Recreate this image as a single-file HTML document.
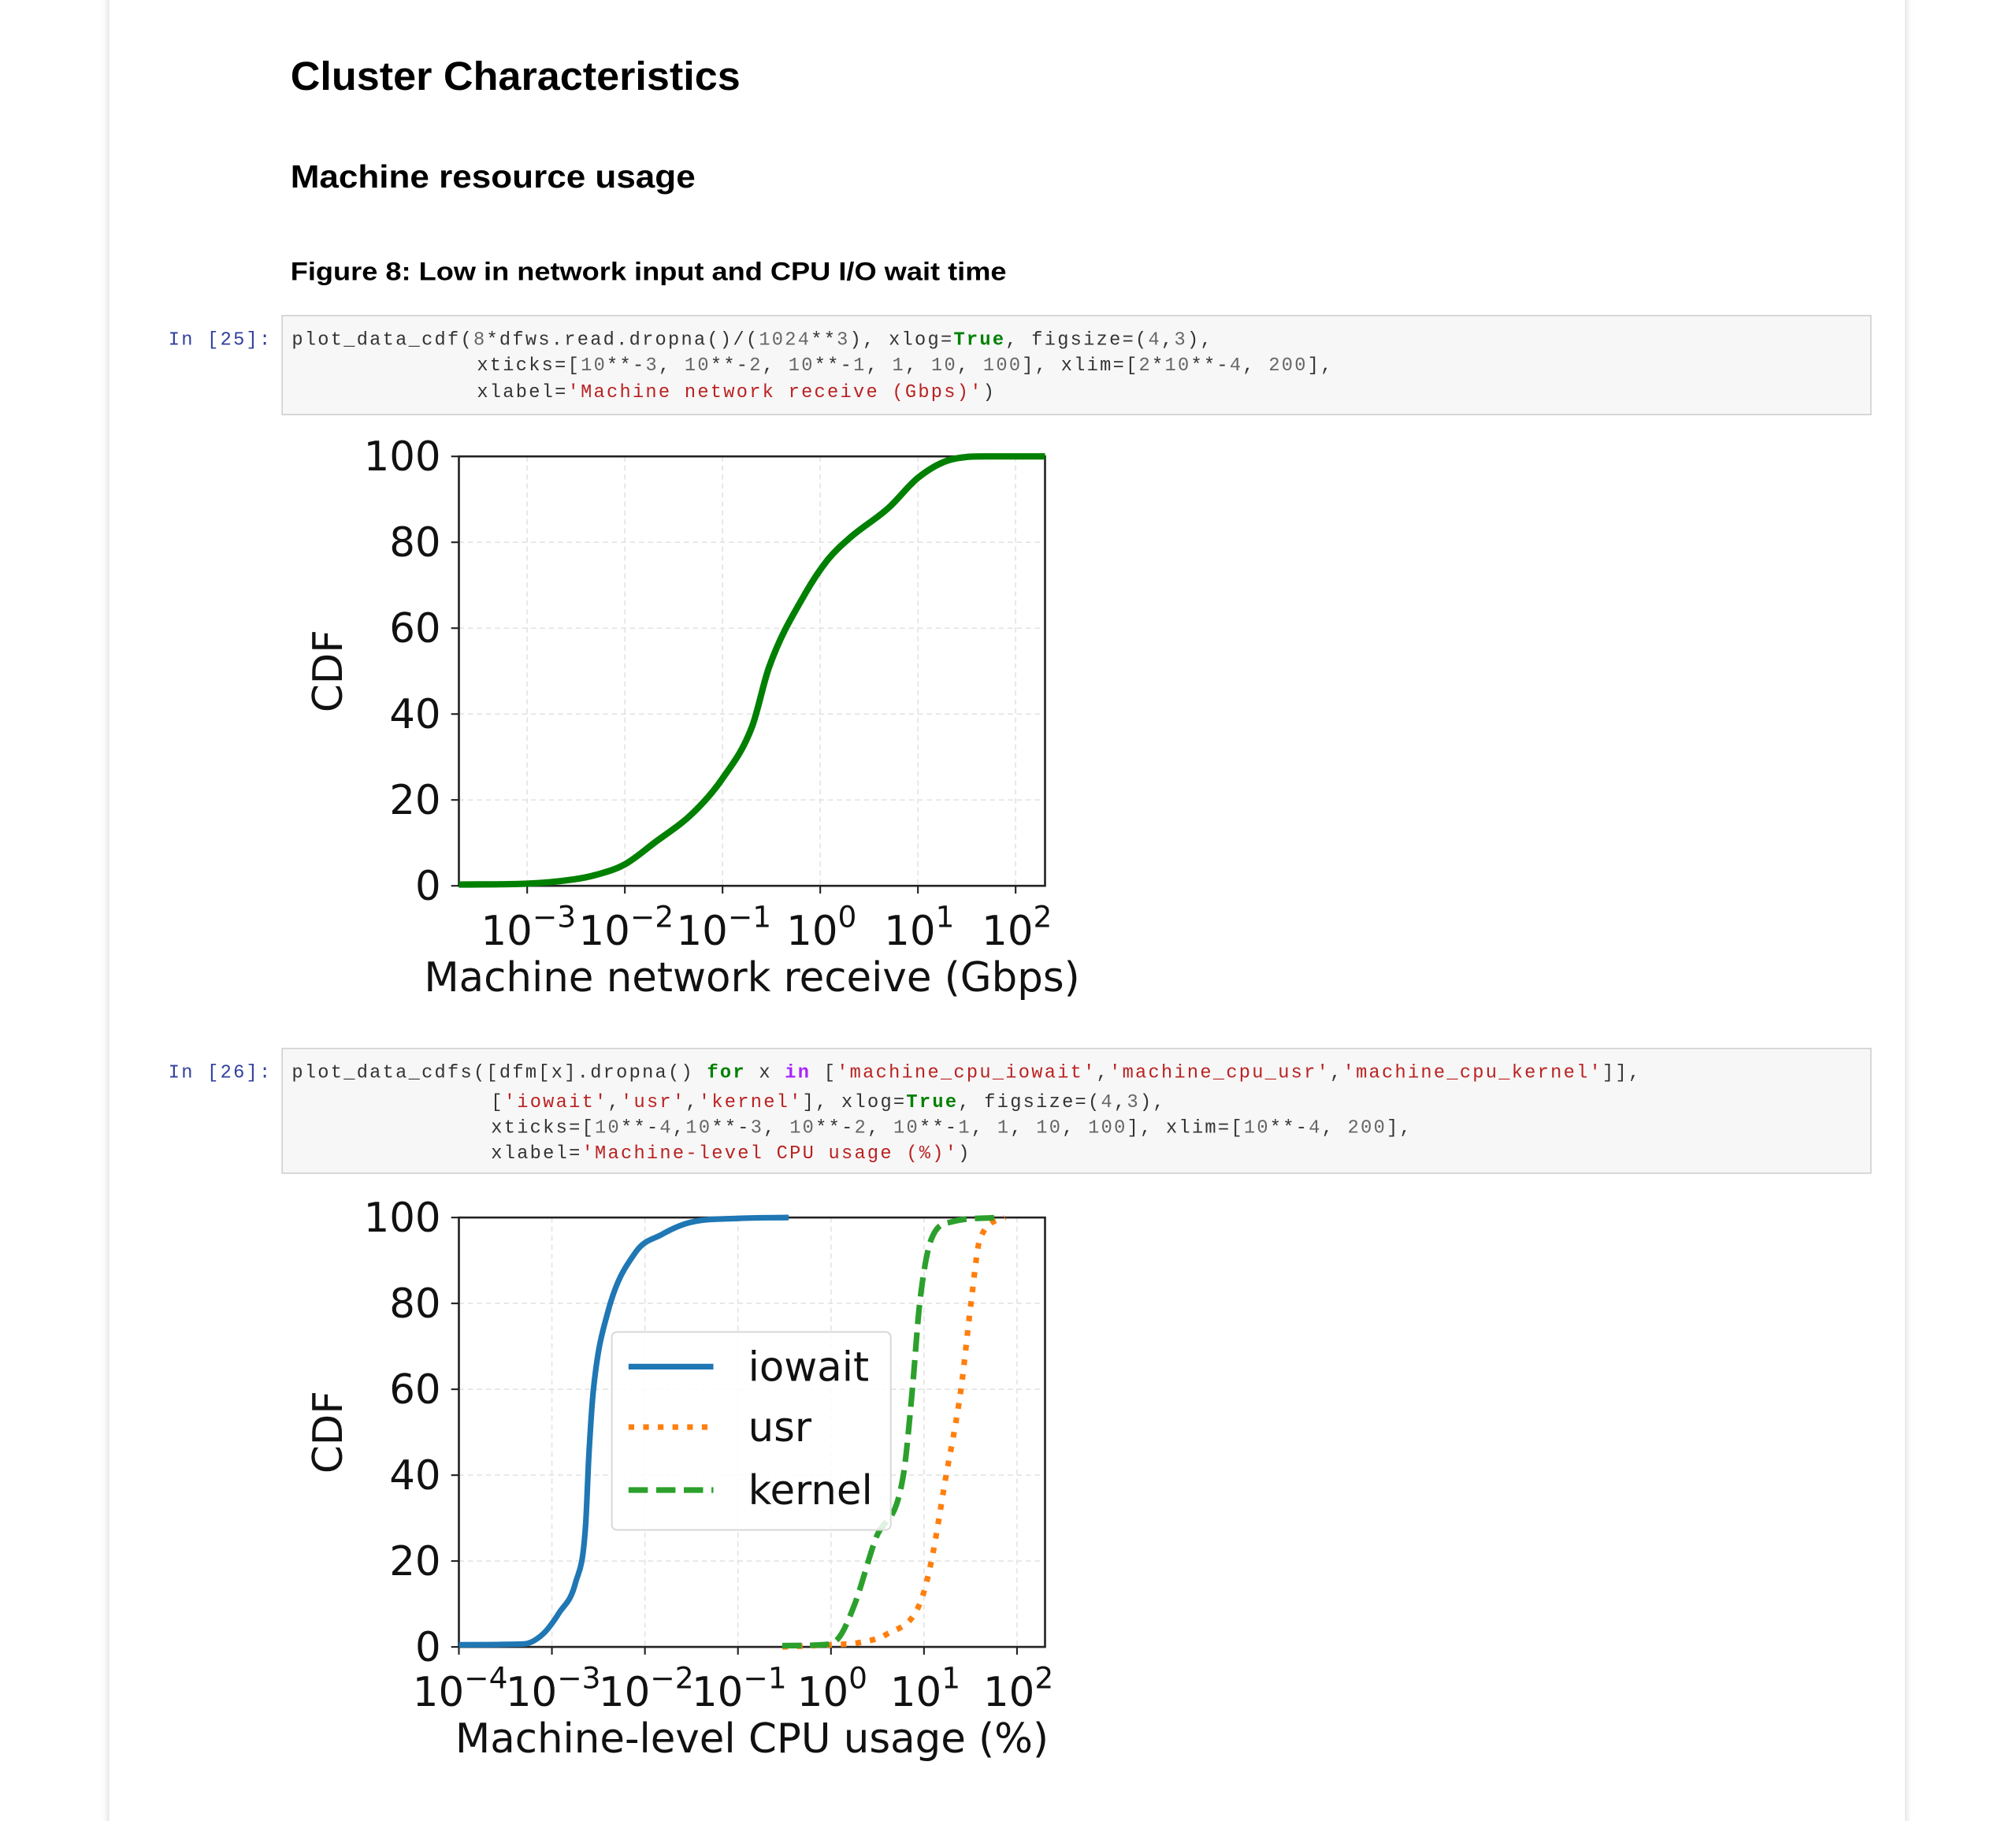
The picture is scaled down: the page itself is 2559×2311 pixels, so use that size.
<!DOCTYPE html>
<html><head><meta charset="utf-8"><style>
html,body{margin:0;padding:0;background:#fff;width:2559px;height:2311px;overflow:hidden}
svg text{white-space:pre}
.code{font-family:"Liberation Mono",monospace;font-size:14.5px;fill:#333;letter-spacing:1.4px}
.s{fill:#BA2121}.n{fill:#666}.k{fill:#008000;font-weight:bold}.p{fill:#AA22FF;font-weight:bold}
.tick{font-family:"DejaVu Sans",sans-serif;font-size:31.5px;fill:#111}
</style></head><body>
<svg width="2559" height="2311" viewBox="0 0 1568.4 1416.4" xmlns="http://www.w3.org/2000/svg">
<defs><filter id="sh" x="-5%" y="-5%" width="110%" height="110%"><feGaussianBlur stdDeviation="3"/></filter></defs>
<rect x="85" y="-20" width="1397" height="1460" fill="#ccc" filter="url(#sh)"/>
<rect x="85" y="-20" width="1397" height="1460" fill="#fff"/>
<text x="226" y="70" font-family="Liberation Sans, sans-serif" font-weight="bold" font-size="31" textLength="350" lengthAdjust="spacingAndGlyphs" fill="#000">Cluster Characteristics</text>
<text x="226" y="146" font-family="Liberation Sans, sans-serif" font-weight="bold" font-size="25" textLength="315" lengthAdjust="spacingAndGlyphs" fill="#000">Machine resource usage</text>
<text x="226" y="218" font-family="Liberation Sans, sans-serif" font-weight="bold" font-size="20" textLength="557" lengthAdjust="spacingAndGlyphs" fill="#000">Figure 8: Low in network input and CPU I/O wait time</text>

<text x="131" y="268" class="code" style="fill:#303F9F">In [25]:</text>
<rect x="219.5" y="245.5" width="1236" height="77" fill="#f7f7f7" stroke="#cfcfcf"/>
<text class="code" x="227" y="268">plot_data_cdf(<tspan class="n">8</tspan>*dfws.read.dropna()/(<tspan class="n">1024</tspan>**<tspan class="n">3</tspan>), xlog=<tspan class="k">True</tspan>, figsize=(<tspan class="n">4</tspan>,<tspan class="n">3</tspan>),</text>
<text class="code" x="371" y="288">xticks=[<tspan class="n">10</tspan>**-<tspan class="n">3</tspan>, <tspan class="n">10</tspan>**-<tspan class="n">2</tspan>, <tspan class="n">10</tspan>**-<tspan class="n">1</tspan>, <tspan class="n">1</tspan>, <tspan class="n">10</tspan>, <tspan class="n">100</tspan>], xlim=[<tspan class="n">2</tspan>*<tspan class="n">10</tspan>**-<tspan class="n">4</tspan>, <tspan class="n">200</tspan>],</text>
<text class="code" x="371" y="309">xlabel=<tspan class="s">'Machine network receive (Gbps)'</tspan>)</text>

<text x="131" y="838" class="code" style="fill:#303F9F">In [26]:</text>
<rect x="219.5" y="815.5" width="1236" height="97" fill="#f7f7f7" stroke="#cfcfcf"/>
<text class="code" x="227" y="838">plot_data_cdfs([dfm[x].dropna() <tspan class="k">for</tspan> x <tspan class="p">in</tspan> [<tspan class="s">'machine_cpu_iowait'</tspan>,<tspan class="s">'machine_cpu_usr'</tspan>,<tspan class="s">'machine_cpu_kernel'</tspan>]],</text>
<text class="code" x="382" y="861">[<tspan class="s">'iowait'</tspan>,<tspan class="s">'usr'</tspan>,<tspan class="s">'kernel'</tspan>], xlog=<tspan class="k">True</tspan>, figsize=(<tspan class="n">4</tspan>,<tspan class="n">3</tspan>),</text>
<text class="code" x="382" y="881">xticks=[<tspan class="n">10</tspan>**-<tspan class="n">4</tspan>,<tspan class="n">10</tspan>**-<tspan class="n">3</tspan>, <tspan class="n">10</tspan>**-<tspan class="n">2</tspan>, <tspan class="n">10</tspan>**-<tspan class="n">1</tspan>, <tspan class="n">1</tspan>, <tspan class="n">10</tspan>, <tspan class="n">100</tspan>], xlim=[<tspan class="n">10</tspan>**-<tspan class="n">4</tspan>, <tspan class="n">200</tspan>],</text>
<text class="code" x="382" y="901">xlabel=<tspan class="s">'Machine-level CPU usage (%)'</tspan>)</text>

<g id="chart1"></g>
<g id="chart2"></g>
</svg>
<script>
const NS='http://www.w3.org/2000/svg';
const yTicks=[0,20,40,60,80,100];
const c1Exps=[-3,-2,-1,0,1,2];
const c1X=[2e-4,1e-3,3e-3,5e-3,1e-2,2e-2,5e-2,0.1,0.2,0.3,0.7,1.2,2,5,10,20,50,200];
const c1Y=[0.3,0.5,1.5,2.5,5,10,17,25,37,51,68,76,81,88,95,99,100,100];
const c2Exps=[-4,-3,-2,-1,0,1,2];
const iowaitX=[1e-4,5e-4,8e-4,1.2e-3,1.8e-3,2.3e-3,2.5e-3,2.8e-3,4e-3,8e-3,1.5e-2,3e-2,0.1,0.35];
const iowaitY=[0.5,0.7,3,8,15,28,45,60,78,92,96,98.8,99.8,100];
const usrX=[0.3,1,2,4,9,12,17,25,32,40,74];
const usrY=[0,0.5,1,3,10,20,39,60,80,95,100];
const kernelX=[0.3,0.8,1.2,1.8,3,6,7.5,9,12,20,59];
const kernelY=[0.3,0.5,2,10,25,40,60,80,95,99,100];

function el(tag,attrs,parent){const e=document.createElementNS(NS,tag);for(const k in attrs)e.setAttribute(k,attrs[k]);parent.appendChild(e);return e;}

function drawAxes(g,L,T,R,B,xs,ys,exps,xlabel,xlFont){
  yTicks.forEach(v=>{const l=el('line',{x1:L,x2:R,y1:ys(v),y2:ys(v),stroke:'#e3e3e3','stroke-width':1,'stroke-dasharray':'4 3'},g);
    });
  exps.forEach(e=>{const x=xs(Math.pow(10,e));const l=el('line',{x1:x,x2:x,y1:T,y2:B,stroke:'#e3e3e3','stroke-width':1,'stroke-dasharray':'4 3'},g);
    });
  const box=el('rect',{x:L,y:T,width:R-L,height:B-T,fill:'none',stroke:'#222','stroke-width':1.6},g);
  
  yTicks.forEach(v=>{const y=ys(v);
    el('line',{x1:L-6,x2:L,y1:y,y2:y,stroke:'#222','stroke-width':1.3},g);
    const t=el('text',{x:L-14,y:y+11,'text-anchor':'end',class:'tick'},g);t.textContent=v;
    });
  exps.forEach(e=>{const x=xs(Math.pow(10,e));
    el('line',{x1:x,x2:x,y1:B,y2:B+6,stroke:'#222','stroke-width':1.3},g);
    const t=el('text',{x:x+1,y:B+46,'text-anchor':'middle',class:'tick'},g);
    
    const a=el('tspan',{},t);a.textContent='10';
    const b=el('tspan',{'font-size':'23',dy:'-14'},t);b.textContent=(e<0?'\u2212':'')+Math.abs(e);});
  const yl=el('text',{x:0,y:0,transform:`translate(${L-91},${(T+B)/2}) rotate(-90)`,'text-anchor':'middle',class:'tick','font-size':'32'},g);
  yl.textContent='CDF';
  const xl=el('text',{x:(L+R)/2,y:B+82,'text-anchor':'middle',class:'tick','font-size':xlFont},g);
  xl.textContent=xlabel;
}
function smoothPath(px,py){
  const n=px.length,d=[],m=[];
  for(let i=0;i<n-1;i++)d.push((py[i+1]-py[i])/((px[i+1]-px[i])||1e-6));
  m[0]=d[0];m[n-1]=d[n-2];
  for(let i=1;i<n-1;i++){m[i]=(d[i-1]*d[i]<=0)?0:(d[i-1]+d[i])/2;}
  for(let i=0;i<n-1;i++){if(d[i]===0){m[i]=0;m[i+1]=0;continue;}
    const a=m[i]/d[i],b=m[i+1]/d[i],s=a*a+b*b;if(s>9){const t=3/Math.sqrt(s);m[i]=t*a*d[i];m[i+1]=t*b*d[i];}}
  let s='M'+px[0].toFixed(1)+','+py[0].toFixed(1);
  for(let i=0;i<n-1;i++){const h=(px[i+1]-px[i])/3;
    s+=` C${(px[i]+h).toFixed(1)},${(py[i]+m[i]*h).toFixed(1)} ${(px[i+1]-h).toFixed(1)},${(py[i+1]-m[i+1]*h).toFixed(1)} ${px[i+1].toFixed(1)},${py[i+1].toFixed(1)}`;}
  return s;
}
function line(g,xs,ys,X,Y,color,dash,name,w){
  const p=el('path',{d:smoothPath(X.map(xs),Y.map(ys)),fill:'none',stroke:color,'stroke-width':w||4.4,'stroke-linejoin':'round'},g);
  if(dash)p.setAttribute('stroke-dasharray',dash);
  
}
(function(){const g=document.getElementById('chart1');
  const L=357,T=355,R=813,B=689,lo=Math.log10(2e-4),hi=Math.log10(200);
  const xs=v=>L+(Math.log10(v)-lo)/(hi-lo)*(R-L);const ys=p=>B-p/100*(B-T);
  drawAxes(g,L,T,R,B,xs,ys,c1Exps,'Machine network receive (Gbps)','36.6');
  line(g,xs,ys,c1X,c1Y,'#008000',null,'network-receive-line',5);
})();
(function(){const g=document.getElementById('chart2');
  const L=357,T=947,R=813,B=1281,lo=-4,hi=Math.log10(200);
  const xs=v=>L+(Math.log10(v)-lo)/(hi-lo)*(R-L);const ys=p=>B-p/100*(B-T);
  drawAxes(g,L,T,R,B,xs,ys,c2Exps,'Machine-level CPU usage (%)','36.6');
  line(g,xs,ys,iowaitX,iowaitY,'#1f77b4',null,'iowait-line');
  line(g,xs,ys,usrX,usrY,'#ff7f0e','4.4 7','usr-line');
  line(g,xs,ys,kernelX,kernelY,'#2ca02c','15 6.5','kernel-line');
  const lg=el('g',{},g);
  el('rect',{x:476,y:1036,width:217,height:154,rx:4,fill:'#fff','fill-opacity':0.85,stroke:'#d8d8d8','stroke-width':1.2},lg);
  const names=['iowait','usr','kernel'],cols=['#1f77b4','#ff7f0e','#2ca02c'],dashes=[null,'4.4 7','15 6.5'],yy=[1063,1110,1159];
  names.forEach((n,i)=>{
    const l=el('line',{x1:489,x2:555,y1:yy[i],y2:yy[i],stroke:cols[i],'stroke-width':4.4},lg);
    if(dashes[i])l.setAttribute('stroke-dasharray',dashes[i]);
    
    const t=el('text',{x:582,y:yy[i]+11,class:'tick','font-size':'32'},lg);t.textContent=n;
    
  });
})();
</script>
</body></html>
